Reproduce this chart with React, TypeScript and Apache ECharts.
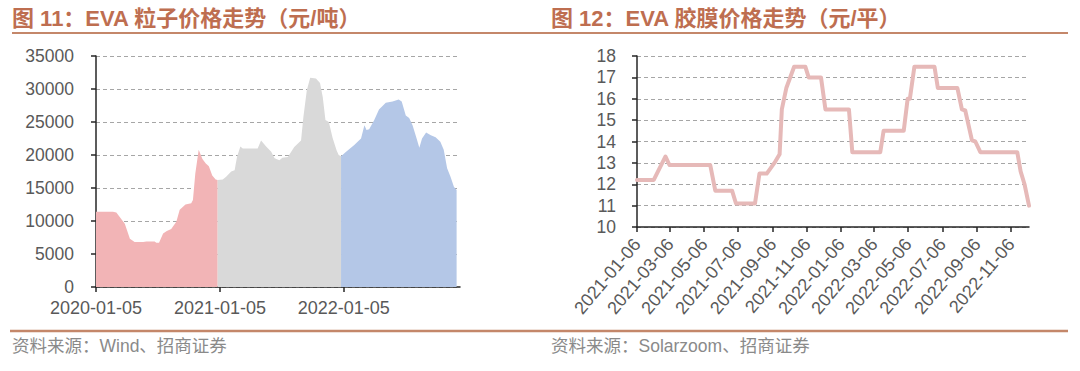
import React, { useEffect, useRef } from 'react';
import * as echarts from 'echarts';

// ---------- Data ----------
const particleTickDates = ['2020-01-05', '2021-01-05', '2022-01-05'];

const particle2020Dates = ['2020-01-05', '2020-02-24', '2020-03-05', '2020-03-30', '2020-04-14', '2020-04-28', '2020-05-23', '2020-06-02', '2020-06-26', '2020-07-01', '2020-07-09', '2020-07-21', '2020-08-01', '2020-08-14', '2020-08-29', '2020-09-08', '2020-09-25', '2020-10-12', '2020-10-17', '2020-10-24', '2020-11-03', '2020-11-14', '2020-11-24', '2020-12-03', '2020-12-13', '2020-12-23', '2020-12-29'];
const particle2020Values = [11400, 11400, 11300, 9600, 7300, 6800, 6800, 6900, 6900, 6700, 6700, 8100, 8500, 8800, 9900, 11700, 12500, 12700, 13200, 17200, 20800, 19400, 18700, 18300, 16900, 16300, 16200];

const particle2021Dates = ['2020-12-29', '2021-01-13', '2021-01-23', '2021-02-07', '2021-02-17', '2021-02-24', '2021-03-06', '2021-03-13', '2021-04-26', '2021-05-06', '2021-05-21', '2021-06-05', '2021-06-15', '2021-06-29', '2021-07-08', '2021-07-24', '2021-08-12', '2021-08-22', '2021-09-01', '2021-09-08', '2021-09-18', '2021-09-28', '2021-10-15', '2021-10-27', '2021-11-04', '2021-11-12', '2021-11-22', '2021-12-03', '2021-12-15', '2021-12-21', '2021-12-28'];
const particle2021Values = [16200, 16300, 16700, 17500, 17700, 19700, 21300, 21000, 21000, 22200, 21300, 20500, 19500, 19200, 19600, 19700, 21200, 21700, 22200, 25800, 29800, 31700, 31600, 30900, 28800, 25300, 25000, 22600, 20700, 20000, 19800];

const particle2022Dates = ['2021-12-28', '2022-01-12', '2022-02-05', '2022-02-25', '2022-03-07', '2022-03-13', '2022-03-21', '2022-04-05', '2022-04-19', '2022-05-09', '2022-05-29', '2022-06-16', '2022-06-25', '2022-07-07', '2022-07-17', '2022-07-27', '2022-08-08', '2022-08-16', '2022-08-24', '2022-09-05', '2022-09-19', '2022-10-03', '2022-10-17', '2022-10-27', '2022-11-06', '2022-11-16', '2022-11-26', '2022-12-04'];
const particle2022Values = [19800, 20500, 21500, 22500, 24500, 23800, 23900, 25300, 26900, 27900, 28100, 28400, 28100, 26000, 25600, 24500, 22500, 21100, 22500, 23400, 23000, 22700, 22000, 20800, 18000, 16700, 15200, 14700];

const filmTickDates = ['2021-01-06', '2021-03-06', '2021-05-06', '2021-07-06', '2021-09-06', '2021-11-06', '2022-01-06', '2022-03-06', '2022-05-06', '2022-07-06', '2022-09-06', '2022-11-06'];

const filmDates = ['2021-01-06', '2021-02-05', '2021-02-26', '2021-03-05', '2021-05-17', '2021-05-26', '2021-06-25', '2021-07-02', '2021-08-05', '2021-08-13', '2021-08-26', '2021-09-10', '2021-09-18', '2021-09-22', '2021-09-30', '2021-10-14', '2021-11-03', '2021-11-09', '2021-12-01', '2021-12-09', '2022-01-20', '2022-01-26', '2022-03-17', '2022-03-23', '2022-04-28', '2022-05-05', '2022-05-09', '2022-05-17', '2022-06-22', '2022-06-28', '2022-08-02', '2022-08-10', '2022-08-16', '2022-08-28', '2022-09-03', '2022-09-12', '2022-11-17', '2022-11-23', '2022-11-30', '2022-12-08'];
const filmValues = [12.2, 12.2, 13.3, 12.9, 12.9, 11.7, 11.7, 11.1, 11.1, 12.5, 12.5, 13.05, 13.4, 15.5, 16.5, 17.5, 17.5, 17.0, 17.0, 15.5, 15.5, 13.5, 13.5, 14.5, 14.5, 16.0, 16.0, 17.5, 17.5, 16.5, 16.5, 15.5, 15.45, 14.05, 14.0, 13.5, 13.5, 12.6, 12.0, 11.0];

const leftTitle = '图 11：EVA 粒子价格走势（元/吨）';
const rightTitle = '图 12：EVA 胶膜价格走势（元/平）';
const leftSource = '资料来源：Wind、招商证券';
const rightSource = '资料来源：Solarzoom、招商证券';

// ---------- Helpers ----------
const toTs = (s: string) => {
  const [y, m, d] = s.split('-').map(Number);
  return new Date(y, m - 1, d).getTime();
};
const fmt = (v: number) => {
  const d = new Date(v);
  const p = (n: number) => String(n).padStart(2, '0');
  return `${d.getFullYear()}-${p(d.getMonth() + 1)}-${p(d.getDate())}`;
};
const zip = (dates: string[], vals: number[]) => dates.map((d, i) => [toTs(d), vals[i]]);

const FONT = '"Liberation Sans", Arial, "Noto Sans CJK SC", sans-serif';
const LABEL = '#595959';
const AXIS = '#262626';
const TITLE = '#BE6E50';
const RULE = '#C4876A';

export default function App() {
  const ref = useRef<HTMLDivElement>(null);
  useEffect(() => {
    document.body.style.margin = '0';
    const chart = echarts.init(ref.current!, undefined, { renderer: 'svg' });
    const axisLine = { show: true, onZero: false, lineStyle: { color: AXIS, width: 1.5 } };
    const split = { show: true, lineStyle: { color: '#A6A6A6', type: [4, 3], width: 1 } };
    const pTicks = particleTickDates.map(toTs);
    const fTicks = filmTickDates.map(toTs);
    const option: any = {
      animation: false,
      grid: [
        { left: 96, top: 56, width: 364, height: 231 },
        { left: 637, top: 56, width: 392, height: 171 },
      ],
      xAxis: [
        {
          type: 'value', gridIndex: 0, scale: true,
          min: toTs('2020-01-05'), max: toTs('2022-12-14'),
          axisLine,
          axisTick: { show: true, customValues: pTicks, length: 5, lineStyle: { color: AXIS, width: 1.5 } },
          axisLabel: { customValues: pTicks, formatter: (v: number) => fmt(v), color: LABEL, fontSize: 18, fontFamily: FONT, margin: 12, hideOverlap: false },
          splitLine: { show: false },
        },
        {
          type: 'value', gridIndex: 1, scale: true,
          min: toTs('2021-01-06'), max: toTs('2022-12-08'),
          axisLine,
          axisTick: { show: true, customValues: fTicks, length: 5, lineStyle: { color: AXIS, width: 1.5 } },
          axisLabel: { customValues: fTicks, formatter: (v: number) => fmt(v), color: LABEL, fontSize: 18, fontFamily: FONT, margin: 14, rotate: 50, hideOverlap: false },
          splitLine: { show: false },
        },
      ],
      yAxis: [
        {
          type: 'value', gridIndex: 0, min: 0, max: 35000, interval: 5000,
          axisLine,
          axisTick: { show: true, length: 5, lineStyle: { color: AXIS, width: 1.5 } },
          axisLabel: { color: LABEL, fontSize: 17.5, fontFamily: FONT, margin: 22, formatter: (v: number) => String(v) },
          splitLine: split,
        },
        {
          type: 'value', gridIndex: 1, min: 10, max: 18, interval: 1,
          axisLine,
          axisTick: { show: true, length: 5, lineStyle: { color: AXIS, width: 1.5 } },
          axisLabel: { color: LABEL, fontSize: 17.5, fontFamily: FONT, margin: 21, formatter: (v: number) => String(v) },
          splitLine: split,
        },
      ],
      series: [
        { type: 'line', xAxisIndex: 0, yAxisIndex: 0, data: zip(particle2020Dates, particle2020Values), symbol: 'none', lineStyle: { width: 0 }, areaStyle: { color: '#F2B4B6', opacity: 1 }, z: 1 },
        { type: 'line', xAxisIndex: 0, yAxisIndex: 0, data: zip(particle2021Dates, particle2021Values), symbol: 'none', lineStyle: { width: 0 }, areaStyle: { color: '#D9D9D9', opacity: 1 }, z: 1 },
        { type: 'line', xAxisIndex: 0, yAxisIndex: 0, data: zip(particle2022Dates, particle2022Values), symbol: 'none', lineStyle: { width: 0 }, areaStyle: { color: '#B4C7E7', opacity: 1 }, z: 1 },
        { type: 'line', xAxisIndex: 1, yAxisIndex: 1, data: zip(filmDates, filmValues), symbol: 'none', lineStyle: { width: 4, color: '#E6B9B8', cap: 'round', join: 'round' }, z: 3 },
      ],
      graphic: [
        { type: 'text', x: 12, y: 18, style: { text: leftTitle, fontSize: 22, fontWeight: 'bold', fontFamily: FONT, fill: TITLE, verticalAlign: 'middle' } },
        { type: 'text', x: 551, y: 18, style: { text: rightTitle, fontSize: 22, fontWeight: 'bold', fontFamily: FONT, fill: TITLE, verticalAlign: 'middle' } },
        { type: 'line', shape: { x1: 12, y1: 33, x2: 1068, y2: 33 }, style: { stroke: RULE, lineWidth: 2 } },
        { type: 'line', shape: { x1: 10, y1: 331, x2: 1068, y2: 331 }, style: { stroke: RULE, lineWidth: 2.5 } },
        { type: 'text', x: 12, y: 346, style: { text: leftSource, fontSize: 17.5, fontFamily: FONT, fill: '#8A8A8A', verticalAlign: 'middle' } },
        { type: 'text', x: 551, y: 346, style: { text: rightSource, fontSize: 17.5, fontFamily: FONT, fill: '#8A8A8A', verticalAlign: 'middle' } },
      ],
    };
    chart.setOption(option);
    return () => chart.dispose();
  }, []);
  return <div ref={ref} style={{ width: 1080, height: 371 }} />;
}
